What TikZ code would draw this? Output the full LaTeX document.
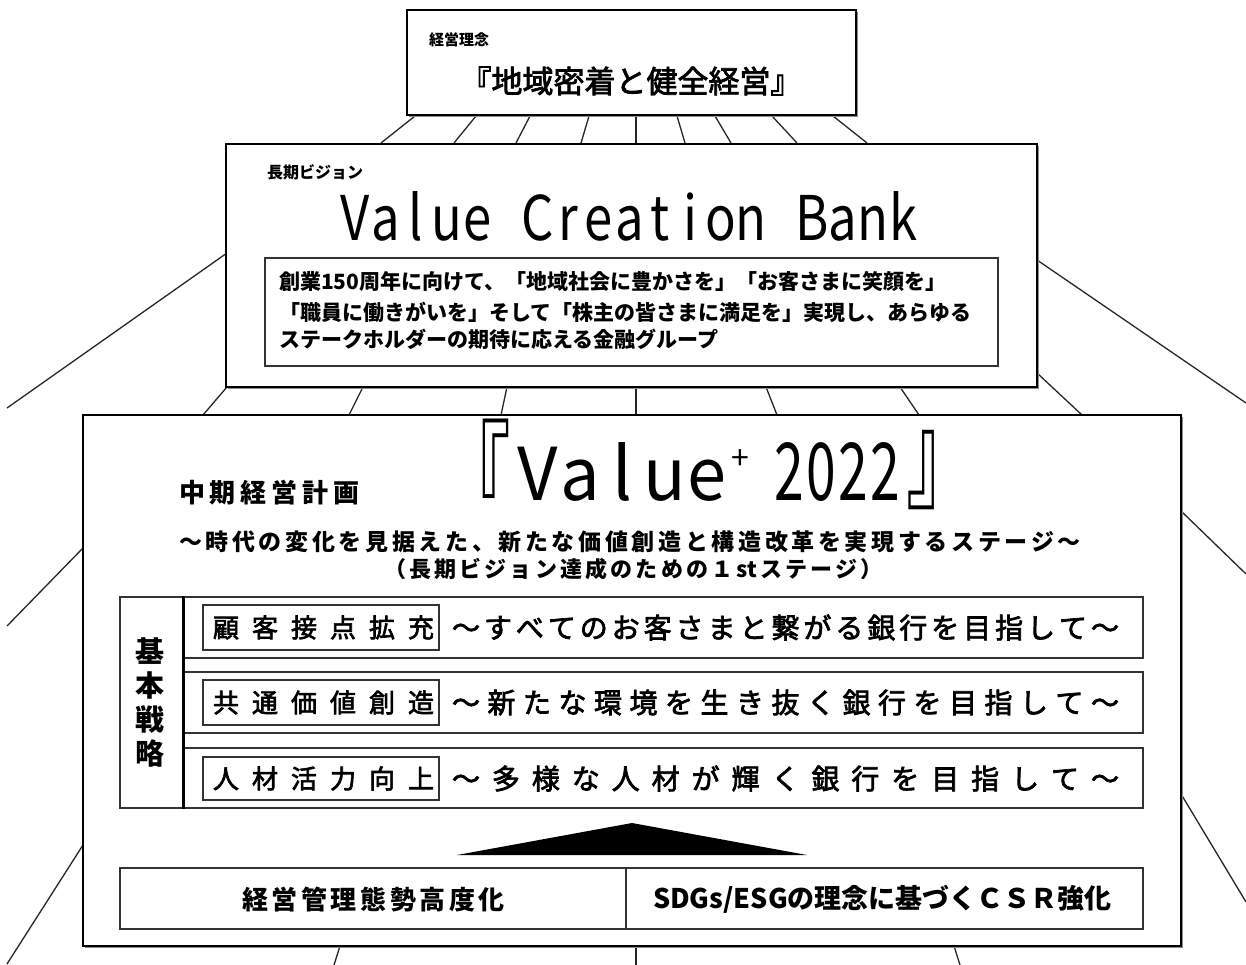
\documentclass[tikz,border=0pt]{standalone}
\usepackage{fontspec}
\usepackage{graphicx}
\setmainfont{Noto Sans CJK JP}
\usetikzlibrary{shadows}
\ExplSyntaxOn
\NewDocumentCommand\spread{mm}{\makebox[#1][s]{\tl_map_inline:nn{#2}{##1\hfil}\unskip}}
\NewDocumentCommand\cells{mm}{\tl_map_inline:nn{#2}{\makebox[#1]{##1}}}
\ExplSyntaxOff
\newcommand\fs[1]{\fontsize{#1}{#1}\selectfont}
\newcommand\semibold{\addfontfeature{FakeBold=2.5}}
\begin{document}
\begin{tikzpicture}[x=1pt,y=-1pt,
  bigbox/.style={draw=black, line width=2.6pt, fill=white, inner sep=0pt,
    drop shadow={shadow xshift=1.6pt, shadow yshift=-1.6pt, fill=black!45, opacity=1}},
  thinbox/.style={draw=black!80, line width=1.3pt, fill=white, inner sep=0pt,
    drop shadow={shadow xshift=1.4pt, shadow yshift=-1.4pt, fill=black!35, opacity=1}},
  ray/.style={draw=black!85, line width=1.3pt},
  txt/.style={inner sep=0pt, outer sep=0pt}]
\useasboundingbox[fill=white] (0,0) rectangle (1246,965);

% perspective rays
\foreach \a/\b/\c/\d in {415/116/381/143, 476/116/454/143, 530/116/516/143, 589/116/581/143,
  636/116/636/143, 677/116/685/143, 715/116/731/143, 772/116/797/143, 833/116/867/143,
  227/253/7/408, 1037/260/1246/403,
  227/387/203/415, 363/387/349/415, 507/387/501/415, 636/387/636/415,
  766/387/777/415, 900/387/919/415, 1037/373/1082/415,
  83/548/7/626, 83/845/7/964, 1181/511/1246/574, 1181/794/1246/902,
  340/946/334/965, 636/946/636/965, 954/946/960/965}
  \draw[ray] (\a,\b) -- (\c,\d);

% box 1
\node[bigbox, minimum width=449pt, minimum height=105pt] (b1) at (631.5,62.5) {};
\node[txt, anchor=west] (t1) at (429,40) {\fs{15}\bfseries 経営理念};
\node[txt] (t2) at (631,81) {\fs{31}\semibold 『地域密着と健全経営』};

% box 2
\node[bigbox, minimum width=811pt, minimum height=243pt] (b2) at (631.5,265.5) {};
\node[txt, anchor=west] (t3) at (267,172) {\fs{16}\bfseries 長期ビジョン};
\node[txt] (t4) at (629.5,216) {\resizebox{579pt}{49pt}{\fs{50}\cells{0.6em}{Value~Creation~Bank}}};
\node[thinbox, minimum width=733pt, minimum height=108pt] (b2i) at (631.5,312) {};
\node[txt, anchor=west] (p1) at (279,282) {\fs{21}\bfseries 創業150周年に向けて、「地域社会に豊かさを」「お客さまに笑顔を」};
\node[txt, anchor=west] (p2) at (279,312) {\fs{21}\bfseries 「職員に働きがいを」そして「株主の皆さまに満足を」実現し、あらゆる};
\node[txt, anchor=west] (p3) at (279,339) {\fs{21}\bfseries ステークホルダーの期待に応える金融グループ};

% box 3
\node[bigbox, minimum width=1098pt, minimum height=531pt] (b3) at (632,680.5) {};
\node[txt, anchor=west] (m1) at (179,492.5) {\fs{26}\bfseries\spread{181pt}{中期経営計画}};
\node[txt] (lb) at (476,470) {\scalebox{0.58}[1]{\fs{120}『}};
\node[txt] (v1) at (622.5,472) {\resizebox{211pt}{58pt}{\fs{50}\cells{0.6em}{Value}}};
\node[txt, anchor=base] (plus) at (740,469) {\fs{32}+};
\node[txt] (v2) at (837,472) {\resizebox{128pt}{58pt}{\fs{50}\cells{0.6em}{2022}}};
\node[txt] (rb) at (941,470) {\scalebox{0.58}[1]{\fs{120}』}};
\node[txt] (m2) at (630,541.5) {\fs{23}\bfseries\spread{902pt}{～時代の変化を見据えた、新たな価値創造と構造改革を実現するステージ～}};
\node[txt] (m3) at (633.5,569) {\fs{22}\bfseries\spread{499pt}{（長期ビジョン達成のための１{st}ステージ）}};

% basic strategy block
\node[thinbox, minimum width=63pt, minimum height=211pt] (kb) at (151.5,702.5) {};
\node[txt, align=center, font=\fontsize{29}{34}\selectfont\bfseries] (kt) at (150,702) {基\\本\\戦\\略};
\node[thinbox, minimum width=960pt, minimum height=61pt] (r1) at (663,627.5) {};
\node[thinbox, minimum width=960pt, minimum height=61pt] (r2) at (663,702.5) {};
\node[thinbox, minimum width=960pt, minimum height=60pt] (r3) at (663,778) {};
\draw[line width=2.4pt] (kb.north east) -- (kb.south east);

\node[thinbox, minimum width=236pt, minimum height=45pt] (l1) at (321,627.5) {};
\node[thinbox, minimum width=236pt, minimum height=45pt] (l2) at (321,702.5) {};
\node[thinbox, minimum width=236pt, minimum height=43pt] (l3) at (321,778.5) {};
\node[txt] (l1t) at (323.5,627.5) {\fs{26}\semibold\spread{221pt}{顧客接点拡充}};
\node[txt] (l2t) at (323.5,702.5) {\fs{26}\semibold\spread{221pt}{共通価値創造}};
\node[txt] (l3t) at (323.5,778.5) {\fs{26}\semibold\spread{221pt}{人材活力向上}};
\node[txt, anchor=west] (r1t) at (452,627.5) {\fs{28}\semibold\spread{667pt}{～すべてのお客さまと繋がる銀行を目指して～}};
\node[txt, anchor=west] (r2t) at (452,702.5) {\fs{28}\semibold\spread{667pt}{～新たな環境を生き抜く銀行を目指して～}};
\node[txt, anchor=west] (r3t) at (452,778.5) {\fs{28}\semibold\spread{667pt}{～多様な人材が輝く銀行を目指して～}};

% triangle
\fill[black] (632,823) -- (457,855) -- (807,855) -- cycle;

% foundation boxes
\node[thinbox, minimum width=506pt, minimum height=61pt] (f1) at (373,898.5) {};
\node[thinbox, minimum width=517pt, minimum height=61pt] (f2) at (884.5,898.5) {};
\node[txt] (f1t) at (373.5,899.5) {\fs{26}\bfseries\spread{263pt}{経営管理態勢高度化}};
\node[txt] (f2t) at (882.5,899.5) {\fs{27}\bfseries SDGs/ESGの理念に基づくＣＳＲ強化};
\end{tikzpicture}
\end{document}
